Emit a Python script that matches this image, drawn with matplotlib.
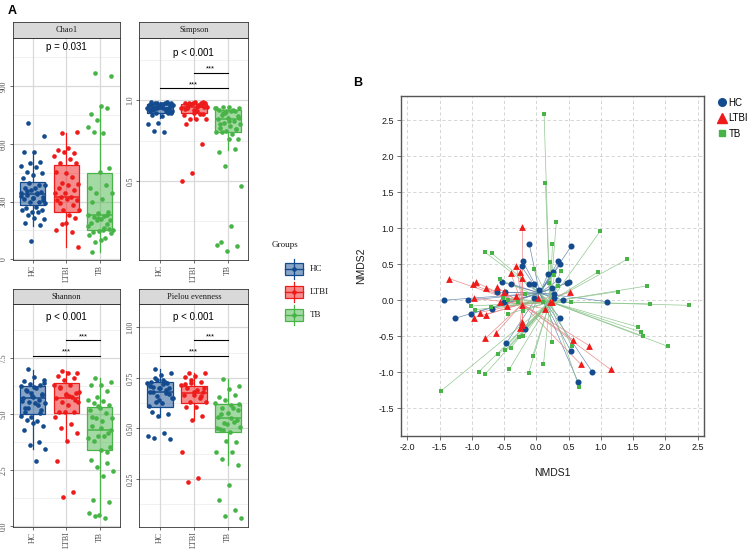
import numpy as np
import matplotlib
matplotlib.use("Agg")
import matplotlib.pyplot as plt
from matplotlib.patches import Rectangle
from matplotlib.lines import Line2D

SERIF = "Liberation Serif"
SANS = "Liberation Sans"

groups = ["HC", "LTBI", "TB"]
colors = {"HC": "#134B8E", "LTBI": "#EE1B1B", "TB": "#48B448"}

# ---------------- Panel A data ----------------
chao1_HC = [711, 642, 560, 560, 506, 500, 487, 482, 456, 447, 439, 421, 387, 395, 387, 369, 369, 352, 361, 343,
            347, 335, 326, 317, 314, 300, 300, 291, 274, 265, 257, 248, 257, 248, 231, 208, 213, 187, 179, 95,
            330, 340, 355, 310, 320]
chao1_LTBI = [655, 664, 577, 569, 551, 560, 537, 520, 499, 499, 447, 456, 430, 395, 390, 387, 369, 361, 343, 347,
              326, 326, 309, 312, 309, 283, 257, 257, 231, 291, 213, 191, 153, 144, 182, 62]
chao1_TB = [971, 954, 798, 754, 785, 725, 690, 659, 661, 473, 456, 369, 387, 343, 343, 312, 300, 248, 239, 231,
            225, 222, 203, 208, 191, 184, 205, 153, 153, 144, 156, 149, 127, 109, 92, 135, 101, 40, 230, 215, 175, 160]
chao1_box = {"HC": [175, 283, 338, 404, 560], "LTBI": [62, 248, 326, 491, 659], "TB": [40, 153, 231, 447, 798]}

simpson_HC = [0.98, 0.98, 0.975, 0.985, 0.98, 0.98, 0.95, 0.95, 0.96, 0.95, 0.96, 0.93, 0.93, 0.92, 0.935, 0.90,
              0.91, 0.92, 0.86, 0.85, 0.80, 0.81, 0.97, 0.965, 0.94, 0.945, 0.955, 0.97, 0.975, 0.94, 0.93, 0.96,
              0.97, 0.98, 0.95, 0.92, 0.96, 0.975, 0.985, 0.95]
simpson_LTBI = [0.98, 0.98, 0.985, 0.98, 0.98, 0.975, 0.95, 0.955, 0.95, 0.915, 0.92, 0.91, 0.915, 0.88, 0.88, 0.88,
                0.85, 0.73, 0.55, 0.50, 0.97, 0.965, 0.96, 0.94, 0.945, 0.97, 0.975, 0.96, 0.93, 0.95, 0.985, 0.98]
simpson_TB = [0.96, 0.95, 0.955, 0.94, 0.93, 0.92, 0.95, 0.93, 0.91, 0.90, 0.89, 0.88, 0.87, 0.86, 0.85, 0.84, 0.83,
              0.82, 0.81, 0.80, 0.79, 0.80, 0.76, 0.76, 0.68, 0.70, 0.59, 0.47, 0.22, 0.125, 0.10, 0.07, 0.105,
              0.94, 0.92, 0.89, 0.87, 0.85, 0.82, 0.93, 0.95]
simpson_box = {"HC": [0.89, 0.92, 0.95, 0.975, 0.99], "LTBI": [0.88, 0.92, 0.955, 0.975, 0.99],
               "TB": [0.69, 0.80, 0.88, 0.94, 0.96]}

shannon_HC = [7.01, 6.53, 6.68, 6.49, 6.31, 6.33, 6.24, 6.16, 6.02, 5.87, 5.79, 5.72, 5.64, 5.57, 5.5, 5.52, 5.27,
              5.2, 4.90, 4.93, 4.68, 4.75, 4.46, 4.6, 4.31, 3.76, 3.61, 3.46, 2.90, 6.1, 5.9, 5.8, 5.6, 5.4, 5.3,
              6.4, 6.2, 5.1, 5.05, 5.95]
shannon_LTBI = [6.92, 6.86, 6.86, 6.71, 6.61, 6.53, 6.31, 6.31, 6.16, 5.97, 5.87, 5.72, 5.75, 5.57, 5.55, 5.42,
                5.08, 5.08, 5.08, 4.90, 4.56, 4.38, 4.16, 3.82, 2.90, 1.51, 1.31, 6.0, 5.8, 6.2, 5.65, 5.9]
shannon_TB = [6.61, 6.42, 6.31, 6.31, 6.02, 5.79, 5.64, 5.61, 5.5, 5.42, 5.27, 5.2, 5.05, 4.83, 4.83, 4.68, 4.46,
              4.16, 4.01, 3.94, 4.05, 3.79, 3.56, 3.42, 2.97, 2.82, 2.64, 2.45, 2.26, 1.16, 1.07, 0.52, 0.59, 0.37,
              0.45, 4.3, 4.4, 4.9, 3.3, 5.35]
shannon_box = {"HC": [3.46, 5.0, 5.72, 6.28, 6.98], "LTBI": [3.83, 5.05, 5.72, 6.39, 6.91],
               "TB": [0.59, 3.39, 4.31, 5.32, 6.61]}

pielou_HC = [0.792, 0.776, 0.764, 0.731, 0.726, 0.738, 0.723, 0.740, 0.707, 0.698, 0.698, 0.682, 0.674, 0.632,
             0.649, 0.624, 0.583, 0.571, 0.563, 0.464, 0.476, 0.451, 0.446, 0.70, 0.71, 0.69, 0.66, 0.65, 0.72,
             0.68, 0.67, 0.64, 0.61, 0.73, 0.75]
pielou_LTBI = [0.773, 0.773, 0.759, 0.753, 0.731, 0.723, 0.715, 0.690, 0.698, 0.682, 0.665, 0.665, 0.649, 0.632,
               0.632, 0.608, 0.608, 0.563, 0.542, 0.385, 0.253, 0.234, 0.70, 0.68, 0.72, 0.66, 0.74]
pielou_TB = [0.743, 0.710, 0.695, 0.657, 0.665, 0.641, 0.624, 0.616, 0.599, 0.591, 0.575, 0.558, 0.534, 0.525,
             0.509, 0.484, 0.496, 0.435, 0.438, 0.385, 0.382, 0.347, 0.319, 0.220, 0.146, 0.097, 0.067, 0.056,
             0.55, 0.57, 0.54, 0.52, 0.50, 0.60, 0.49, 0.62]
pielou_box = {"HC": [0.558, 0.608, 0.682, 0.731, 0.792], "LTBI": [0.542, 0.624, 0.677, 0.712, 0.773],
              "TB": [0.32, 0.481, 0.550, 0.621, 0.743]}

# ---------------- Panel B data (NMDS) ----------------
HC_x = [-1.44, -1.26, -1.06, -1.01, -0.69, -0.61, -0.53, -0.48, -0.40, -0.23, -0.21, -0.11, -0.12, -0.04, -0.04,
        0.04, 0.18, 0.26, 0.34, 0.37, 0.34, 0.47, 0.50, 0.54, 0.24, 0.28, 0.28, 0.42, 1.10, 0.37, 0.53, 0.65,
        0.87, -0.17, -0.47, -0.50]
HC_y = [0.00, -0.25, 0.00, -0.19, -0.12, 0.11, 0.25, 0.11, 0.23, 0.47, 0.54, 0.78, 0.22, 0.22, 0.03, 0.14, 0.36,
        0.39, 0.54, 0.50, 0.28, 0.24, 0.25, 0.75, 0.17, 0.09, 0.03, 0.00, -0.02, -0.25, -0.70, -1.14, -1.00,
        -0.40, -0.60, -0.03]
LTBI_x = [-0.22, -1.35, -0.99, -0.94, -0.78, -0.61, -0.50, -0.97, -0.88, -0.96, -0.78, -0.79, -0.62, -0.56, -0.45,
          -0.40, -0.31, -0.25, -0.22, -0.32, -0.22, -0.22, -0.22, -0.26, 0.02, 0.13, 0.21, 0.24, 0.52, 0.57, 0.82,
          0.69, 1.15]
LTBI_y = [1.02, 0.30, 0.22, 0.25, 0.17, 0.18, 0.11, 0.03, -0.17, -0.24, -0.20, -0.53, -0.45, -0.02, -0.08, 0.38,
          0.48, 0.39, 0.31, 0.06, -0.06, -0.30, -0.34, -0.39, 0.03, -0.12, -0.03, -0.03, 0.11, -0.55, -0.63, -0.89,
          -0.96]
TB_x = [0.12, 0.14, 0.31, 0.99, 0.25, -0.80, -0.69, 1.41, 0.95, 1.72, 1.26, 2.37, 1.76, 1.57, 1.62, 1.66, 2.04,
        -1.48, -0.89, -0.80, -0.42, -0.12, 0.11, -0.06, -0.59, -0.48, -0.40, -0.27, -0.21, 0.24, 0.55, 0.66,
        -1.01, -0.95, -0.70, -0.44, -0.21, -0.57, -0.52, -0.44, -0.17, -0.04, 0.21, 0.28, 0.38, 0.34, 0.19, 0.11,
        0.53, -0.28]
TB_y = [2.58, 1.63, 1.09, 0.96, 0.78, 0.67, 0.65, 0.57, 0.39, 0.20, 0.12, -0.07, -0.05, -0.37, -0.44, -0.50,
        -0.64, -1.26, -0.99, -1.03, -0.96, -1.01, -0.89, -0.78, -0.75, -0.69, -0.66, -0.51, -0.50, -0.58, -0.64,
        -1.20, -0.08, -0.13, -0.09, -0.19, -0.15, 0.29, 0.03, 0.00, 0.09, 0.43, 0.53, 0.35, 0.41, 0.20, 0.24,
        -0.02, -0.02, -0.03]
centroid_x = {"HC": 0.05, "LTBI": -0.22, "TB": 0.21}
centroid_y = {"HC": 0.10, "LTBI": -0.05, "TB": -0.02}

# ---------------- Figure ----------------
W, H = 750, 551
fig = plt.figure(figsize=(W / 100, H / 100), dpi=100)


def fx(px):
    return px / W


def fy(py):
    return 1 - py / H


def jitter(n, width=0.38):
    i = np.arange(n)
    return width * (2 * ((i * 0.6180339887 + 0.31) % 1.0) - 1)


def facet(left, right, top, bottom, strip_top, title, data, boxes, ylim, major, minor, ticklabels,
          ptext, ptext_y, sig=None):
    ax = fig.add_axes([fx(left), fy(bottom), fx(right) - fx(left), fy(top) - fy(bottom)])
    ax.set_xlim(0.4, 3.6)
    ax.set_ylim(*ylim)
    for m in minor:
        ax.axhline(m, color="#ebebeb", lw=0.5, zorder=0)
    for m in major:
        ax.axhline(m, color="#d9d9d9", lw=0.9, zorder=0)
    for xv in (1, 2, 3):
        ax.axvline(xv, color="#d9d9d9", lw=0.9, zorder=0)
    stats = []
    for g in groups:
        lo, q1, med, q3, hi = boxes[g]
        stats.append(dict(whislo=lo, q1=q1, med=med, q3=q3, whishi=hi, fliers=[]))
    bp = ax.bxp(stats, positions=[1, 2, 3], widths=0.75, patch_artist=True, showfliers=False,
                showcaps=False, manage_ticks=False)
    for k, g in enumerate(groups):
        c = colors[g]
        bp["boxes"][k].set_facecolor(matplotlib.colors.to_rgba(c, 0.5))
        bp["boxes"][k].set_edgecolor(c)
        bp["boxes"][k].set_linewidth(0.9)
        bp["medians"][k].set_color(c)
        bp["medians"][k].set_linewidth(1.1)
        for w in bp["whiskers"][2 * k:2 * k + 2]:
            w.set_color(c)
            w.set_linewidth(0.9)
    for k, g in enumerate(groups):
        vals = np.asarray(data[g])
        ax.scatter(k + 1 + jitter(len(vals)), vals, s=11, color=colors[g], zorder=4, linewidths=0)
    ax.text(2, ptext_y, ptext, ha="center", va="center", fontsize=7, family=SANS)
    if sig:
        for (x0, x1, yv) in sig:
            ax.plot([x0, x1], [yv, yv], color="black", lw=0.8, zorder=5)
            ax.text((x0 + x1) / 2, yv, "***", ha="center", va="bottom", fontsize=5.5, family=SANS)
    ax.set_yticks(major)
    ax.set_yticklabels(ticklabels, rotation=90, va="center", fontsize=5.5, family=SERIF, color="#4d4d4d")
    ax.set_xticks([1, 2, 3])
    ax.set_xticklabels(groups, rotation=90, fontsize=5.8, family=SERIF, color="#4d4d4d")
    ax.tick_params(length=2, width=0.5, color="#333333", pad=1.5)
    for s in ax.spines.values():
        s.set_color("#333333")
        s.set_linewidth(0.6)
    # strip
    sa = fig.add_axes([fx(left), fy(top), fx(right) - fx(left), fy(strip_top) - fy(top)])
    sa.set_facecolor("#d9d9d9")
    sa.set_xticks([])
    sa.set_yticks([])
    for s in sa.spines.values():
        s.set_color("#333333")
        s.set_linewidth(0.6)
    sa.text(0.5, 0.5, title, ha="center", va="center", fontsize=6, family=SERIF, color="#1a1a1a",
            transform=sa.transAxes)
    return ax


facet(12.7, 120, 37.7, 260, 21.7, "Chao1",
      {"HC": chao1_HC, "LTBI": chao1_LTBI, "TB": chao1_TB}, chao1_box,
      (-4, 1152), [0, 300, 600, 900], [150, 450, 750, 1050], ["0", "300", "600", "900"],
      "p = 0.031", 1105)
facet(139.3, 248.3, 37.7, 260, 21.7, "Simpson",
      {"HC": simpson_HC, "LTBI": simpson_LTBI, "TB": simpson_TB}, simpson_box,
      (0.012, 1.385), [0.5, 1.0], [0.25, 0.75, 1.25], ["0.5", "1.0"],
      "p < 0.001", 1.29, sig=[(2, 3, 1.17), (1, 3, 1.075)])
facet(12.7, 120, 304.3, 526.7, 289.3, "Shannon",
      {"HC": shannon_HC, "LTBI": shannon_LTBI, "TB": shannon_TB}, shannon_box,
      (-0.02, 9.91), [0, 2.5, 5.0, 7.5], [1.25, 3.75, 6.25, 8.75], ["0.0", "2.5", "5.0", "7.5"],
      "p < 0.001", 9.36, sig=[(2, 3, 8.30), (1, 3, 7.62)])
facet(139.3, 248.3, 304.3, 526.7, 289.3, "Pielou evenness",
      {"HC": pielou_HC, "LTBI": pielou_LTBI, "TB": pielou_TB}, pielou_box,
      (0.014, 1.114), [0.25, 0.5, 0.75, 1.0], [0.125, 0.375, 0.625, 0.875], ["0.25", "0.50", "0.75", "1.00"],
      "p < 0.001", 1.052, sig=[(2, 3, 0.935), (1, 3, 0.859)])

# legend for panel A
la = fig.add_axes([fx(266), fy(335), fx(346) - fx(266), fy(235) - fy(335)])
la.set_xlim(266, 346)
la.set_ylim(335, 235)
la.axis("off")
la.text(272, 245, "Groups", ha="left", va="center", fontsize=6.5, family=SERIF, color="#1a1a1a")
for g, yc in zip(groups, [268.5, 291.5, 315]):
    c = colors[g]
    la.plot([294, 294], [yc - 10, yc + 10], color=c, lw=0.9)
    la.add_patch(Rectangle((285, yc - 6), 18, 12, facecolor=matplotlib.colors.to_rgba(c, 0.5),
                           edgecolor=c, lw=0.9, zorder=3))
    la.plot([285, 303], [yc, yc], color=c, lw=1.0, zorder=4)
    la.scatter([294], [yc], s=11, color=c, zorder=5, linewidths=0)
    la.text(310, yc, g, ha="left", va="center", fontsize=6.5, family=SERIF, color="#1a1a1a")

fig.text(fx(8), fy(11), "A", fontsize=9, fontweight="bold", family=SANS, ha="left", va="center")
fig.text(fx(353), fy(83), "B", fontsize=9, fontweight="bold", family=SANS, ha="left", va="center")

# ---------------- Panel B ----------------
axb = fig.add_axes([fx(401), fy(435.7), fx(704.3) - fx(401), fy(95.7) - fy(435.7)])
axb.set_xlim(-2.1, 2.605)
axb.set_ylim(-1.88, 2.84)
axb.set_xticks(np.arange(-2.0, 2.51, 0.5))
axb.set_yticks(np.arange(-1.5, 2.51, 0.5))
axb.xaxis.set_major_formatter(matplotlib.ticker.FormatStrFormatter("%.1f"))
axb.yaxis.set_major_formatter(matplotlib.ticker.FormatStrFormatter("%.1f"))
axb.grid(True, color="#cfcfcf", linestyle=(0, (4, 3)), lw=0.6)
axb.set_axisbelow(True)
for lab in axb.get_xticklabels() + axb.get_yticklabels():
    lab.set_family(SANS)
    lab.set_fontsize(6.5)
    lab.set_color("#1a1a1a")
axb.tick_params(length=3, width=0.6, color="#555555", pad=2)
for s in axb.spines.values():
    s.set_color("#555555")
    s.set_linewidth(1.0)

line_colors = {"HC": "#5f82ad", "LTBI": "#e98080", "TB": "#86c286"}
pts = {"HC": (HC_x, HC_y), "LTBI": (LTBI_x, LTBI_y), "TB": (TB_x, TB_y)}
markers = {"HC": "o", "LTBI": "^", "TB": "s"}
msize = {"HC": 19, "LTBI": 24, "TB": 12}
for g in groups:
    xs, ys = pts[g]
    cx, cy = centroid_x[g], centroid_y[g]
    for xv, yv in zip(xs, ys):
        axb.plot([cx, xv], [cy, yv], color=line_colors[g], lw=0.5, alpha=0.9, zorder=2)
for g in groups:
    xs, ys = pts[g]
    axb.scatter(xs, ys, marker=markers[g], s=msize[g], color=colors[g], linewidths=0, zorder=3, label=g)

axb.set_xlabel("NMDS1", fontsize=7.5, family=SANS, labelpad=12, color="#1a1a1a")
axb.set_ylabel("NMDS2", fontsize=7.5, family=SANS, labelpad=9, color="#1a1a1a")
handles = [Line2D([], [], marker=markers[g], color=colors[g], linestyle="none",
                  markersize={"HC": 5.5, "LTBI": 6.5, "TB": 4.8}[g]) for g in groups]
fig.legend(handles, groups, loc="upper left", bbox_to_anchor=(fx(713), fy(94)), frameon=False,
           prop={"family": SANS, "size": 7}, handletextpad=0.2, labelspacing=0.55, borderaxespad=0,
           handlelength=1.0)

fig.savefig("out.png", dpi=100)
